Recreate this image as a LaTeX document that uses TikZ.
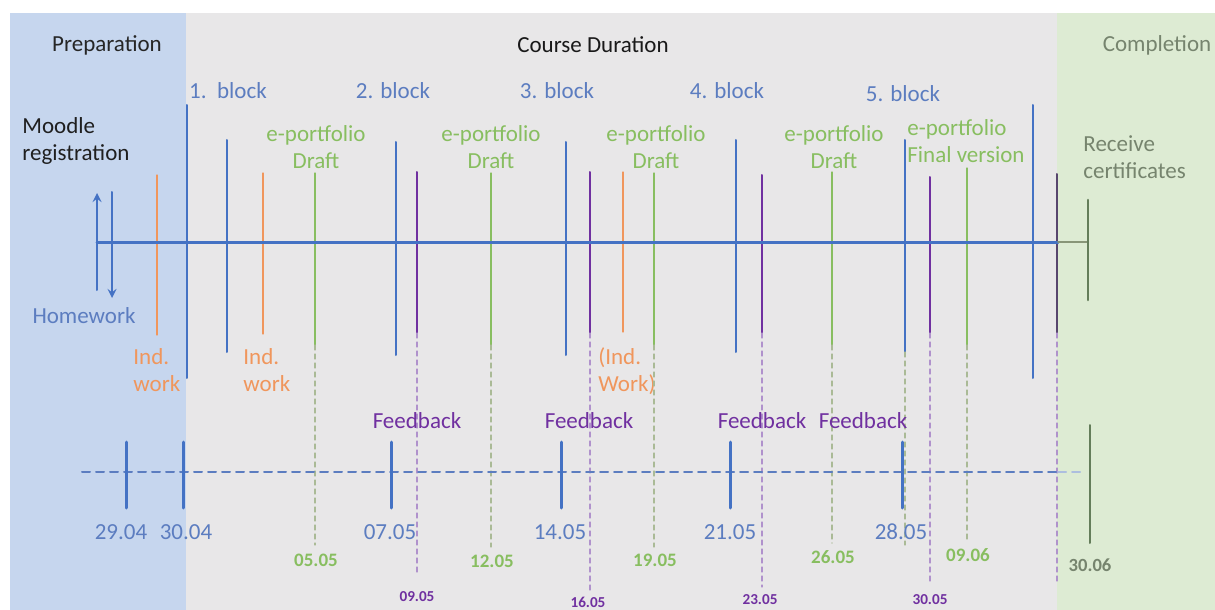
\documentclass[tikz,border=0pt]{standalone}
\usepackage{fontspec}
\setmainfont{Carlito}
\definecolor{prepbg}{RGB}{198,214,238}
\definecolor{coursebg}{RGB}{232,231,232}
\definecolor{donebg}{RGB}{221,235,211}
\definecolor{bblue}{RGB}{68,114,196}
\definecolor{lblue}{RGB}{92,125,192}
\definecolor{orng}{RGB}{240,150,92}
\definecolor{grn}{RGB}{136,190,96}
\definecolor{gdash}{RGB}{170,186,150}
\definecolor{purp}{RGB}{112,48,160}
\definecolor{pdash}{RGB}{176,146,204}
\definecolor{dpurp}{RGB}{88,70,110}
\definecolor{dgrn}{RGB}{100,125,90}
\definecolor{ggrn}{RGB}{118,132,110}
\begin{document}
\begin{tikzpicture}[x=0.5pt, y=-0.5pt, line join=round, line cap=round, >=stealth,
 font=\fontsize{11.5}{13.5}\selectfont,
 txt/.style={inner sep=0pt, align=center},
 blk/.style={txt, text=lblue},
 grtxt/.style={txt, text=grn},
 ortxt/.style={txt, text=orng, align=left, anchor=west},
 fb/.style={txt, text=purp},
 bdate/.style={txt, text=lblue},
 gdate/.style={txt, text=grn, font=\fontsize{9.5}{11}\selectfont\bfseries},
 pdate/.style={txt, text=purp, font=\fontsize{7.6}{9}\selectfont\bfseries},
 blueline/.style={bblue, line width=1pt},
 orline/.style={orng, line width=0.6pt},
 grline/.style={grn, line width=0.6pt},
 prline/.style={purp, line width=1pt},
 gdashed/.style={gdash, line width=0.6pt, dash pattern=on 2.5pt off 2pt},
 pdashed/.style={pdash, line width=0.6pt, dash pattern=on 2.5pt off 2pt},
 tick/.style={bblue, line width=1.5pt}]
 \useasboundingbox (0,0) rectangle (1215,610);
 % three phases
 \fill[prepbg] (10,13) rectangle (186,610);
 \fill[coursebg] (186,13) rectangle (1057,610);
 \fill[donebg] (1057,13) rectangle (1215,610);
 \node[txt, text=black!85] (prep) at (107,45) {Preparation};
 \node[txt, text=black!90] (course) at (593,45) {Course Duration};
 \node[txt, text=ggrn] (compl) at (1157,45) {Completion};
 \foreach\x/\y/\t [count=\i] in {228/91/{1.\ \ block}, 393/91/2. block, 557/91/3. block, 727/91/4. block, 903/94/5. block}
   {\node[blk] (blk\i) at (\x,\y) {\t};}
 \node[txt, anchor=west, align=left, text=black!88] (moodle) at (22,141) {Moodle\\registration};
 \node[txt, anchor=west, align=left, text=ggrn] (cert) at (1083,157) {Receive\\certificates};
 % upper time line
 \foreach\x/\a/\b in {187/105/378, 227/140/352, 396/142/355, 566/142/355, 736/140/352, 905/140/352, 1033/105/378}
   {\draw[blueline] (\x,\a)--(\x,\b);}
 \draw[gdashed] (905,352)--(905,545);
 \foreach\x/\a/\b in {157/175/335, 263/173/334, 623/172/332}
   {\draw[orline] (\x,\a)--(\x,\b);}
 \node[ortxt] (ind1) at (133,370) {Ind.\\work};
 \node[ortxt] (ind2) at (243,370) {Ind.\\work};
 \node[ortxt] (ind3) at (598,371) {(Ind.\\Work)};
 \foreach\x/\a/\b/\d/\y [count=\i] in {315/173/545/05.05/560, 491/173/547/12.05/561, 654/173/547/19.05/560, 832/172/543/26.05/557, 967/168/541/09.06/555}
   {\draw[grline] (\x,\a)--(\x,345);
    \draw[gdashed] (\x,345)--(\x,\b);
    \node[gdate] (gd\i) at (\x+1,\y) {\d};}
 \foreach\x [count=\i] in {316,491,656,834}
   {\node[grtxt] (port\i) at (\x,147) {e-portfolio\\Draft};}
 \node[grtxt, anchor=west, align=left] (final) at (907,141) {e-portfolio\\Final version};
 \foreach\x/\a/\b in {417/172/575, 590/172/590, 762/175/587, 930/177/583}
   {\draw[prline] (\x,\a)--(\x,333);
    \draw[pdashed] (\x,333)--(\x,\b);}
 \draw[dpurp, line width=1pt] (1057,174)--(1057,333);
 \draw[pdashed] (1057,333)--(1057,583);
 \draw[bblue, line width=1.5pt] (97,242)--(1058,242);
 \draw[gdash!80!black, line width=1pt] (1058,242)--(1088,242);
 \draw[dgrn, line width=1.3pt] (1088,200)--(1088,300);
 \draw[->, bblue, line width=1pt] (97,290)--(97,193);
 \draw[->, bblue, line width=1pt] (112,192)--(112,298);
 \node[txt, text=lblue] (hw) at (84,316) {Homework};
 % lower time line
 \draw[lblue, line width=1pt, dash pattern=on 4pt off 3pt] (82,472)--(1058,472);
 \draw[lblue!50, line width=1pt, dash pattern=on 4pt off 3pt] (1058,472)--(1085,472);
 \foreach\x/\d/\c [count=\i] in {126/29.04/121, 183/30.04/186, 391/07.05/390, 561/14.05/560, 730/21.05/730, 902/28.05/901}
   {\draw[tick] (\x,442)--(\x,508);
    \node[bdate] (bd\i) at (\c,532) {\d};}
 \draw[dgrn, line width=1pt] (1090,425)--(1090,543);
 \node[txt, text=ggrn, font=\fontsize{9.3}{11}\selectfont\bfseries] (end) at (1090,565) {30.06};
 \foreach\x [count=\i] in {417,589,762,863}
   {\node[fb] (fb\i) at (\x,421) {Feedback};}
 \foreach\x/\d/\y [count=\i] in {417/09.05/597, 588/16.05/602, 760/23.05/600, 930/30.05/600}
   {\node[pdate] (pd\i) at (\x,\y) {\d};}
\end{tikzpicture}
\end{document}
